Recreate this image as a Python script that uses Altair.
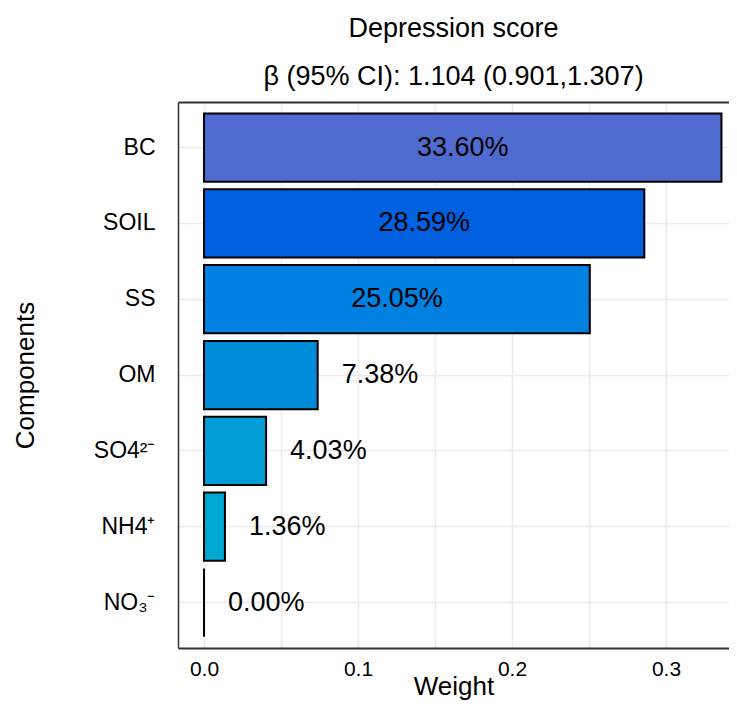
import altair as alt
import pandas as pd

# ---- data ----
components = ["BC", "SOIL", "SS", "OM", "SO4²⁻", "NH4⁺", "NO₃⁻"]
weights = [0.3360, 0.2859, 0.2505, 0.0738, 0.0403, 0.0136, 0.0000]
labels = ["33.60%", "28.59%", "25.05%", "7.38%", "4.03%", "1.36%", "0.00%"]
inside = [True, True, True, False, False, False, False]
x_ticks = [0.0, 0.1, 0.2, 0.3]
x_grid = [0.0, 0.05, 0.1, 0.15, 0.2, 0.25, 0.3]

# ---- styles ----
COLORS = ["#506BCF", "#0060DF", "#0080E0", "#008CD8", "#009DD6", "#00A8D2", "#00AECF"]
FONT = "Liberation Sans"
GRID = "#EBEBEB"
BORDER = "#333333"

df = pd.DataFrame({
    "Component": components,
    "Weight": weights,
    "Label": labels,
    "Inside": inside,
})

xscale = alt.Scale(domain=[-0.0169, 0.3409], nice=False, zero=False)
yscale = alt.Scale(domain=components, paddingInner=0.1, paddingOuter=0.15)

y_enc = alt.Y(
    "Component:N", sort=components, scale=yscale,
    axis=alt.Axis(title="Components", ticks=False, domain=True,
                  domainColor=BORDER, domainWidth=1.5, grid=True,
                  gridColor=GRID, gridWidth=1.5, bandPosition=0.5,
                  labelFontSize=23, labelFont=FONT, labelColor="black",
                  labelPadding=23, titleFontSize=26, titleFont=FONT,
                  titleFontWeight="normal", titleColor="black",
                  titleAngle=270, titleX=-145, titleY=273,
                  titleBaseline="alphabetic", titleAlign="center"),
)

base = alt.Chart(df)

grid_layer = base.mark_point(opacity=0).encode(
    x=alt.X("Weight:Q", scale=xscale,
            axis=alt.Axis(orient="top", values=x_grid, grid=True, gridColor=GRID,
                          gridWidth=1.5, labels=False, ticks=False, domain=True,
                          domainColor=BORDER, domainWidth=2, title=None)),
    y=y_enc,
)

bars = base.mark_bar(stroke="black", strokeWidth=2).encode(
    x=alt.X("Weight:Q", scale=xscale,
            axis=alt.Axis(orient="bottom", values=x_ticks, format=".1f", grid=False,
                          ticks=False, domain=True, domainColor=BORDER, domainWidth=2,
                          labelFontSize=21, labelFont=FONT, labelColor="black",
                          labelPadding=10, title="Weight", titleFontSize=26,
                          titleFont=FONT, titleFontWeight="normal", titleColor="black",
                          titleY=46, titleBaseline="alphabetic")),
    x2=alt.datum(0),
    y=y_enc,
    color=alt.Color("Component:N", sort=components,
                    scale=alt.Scale(domain=components, range=COLORS), legend=None),
)

text_in = base.transform_filter("datum.Inside").transform_calculate(
    Mid="datum.Weight / 2"
).mark_text(fontSize=27, font=FONT, color="black", align="center", baseline="middle").encode(
    x=alt.X("Mid:Q", scale=xscale, axis=None),
    y=y_enc,
    text="Label:N",
)

text_out = base.transform_filter("!datum.Inside").mark_text(
    fontSize=27, font=FONT, color="black", align="left", baseline="middle", dx=24
).encode(
    x=alt.X("Weight:Q", scale=xscale, axis=None),
    y=y_enc,
    text="Label:N",
)

chart = alt.layer(grid_layer, bars, text_in, text_out).resolve_axis(
    x="independent"
).properties(
    width=551,
    height=546,
    autosize=alt.AutoSizeParams(type="none"),
    padding={"left": 170, "top": 94, "right": 0, "bottom": 52},
    title=alt.TitleParams(
        text="Depression score",
        subtitle="β (95% CI): 1.104 (0.901,1.307)",
        fontSize=27, subtitleFontSize=27, font=FONT, subtitleFont=FONT,
        fontWeight="normal", color="black", subtitleColor="black",
        anchor="middle", offset=11, subtitlePadding=21,
    ),
).configure_view(stroke=None)

chart.save("out.html", embed_options={"renderer": "svg", "actions": False})
